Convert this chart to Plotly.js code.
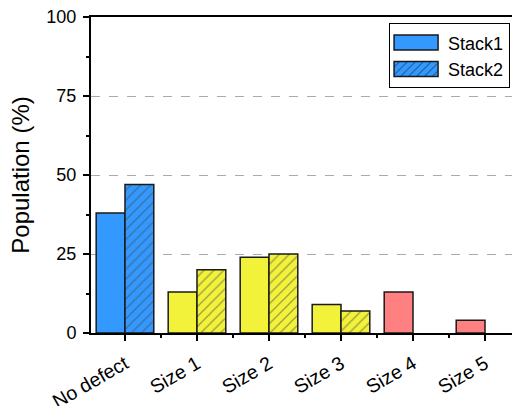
<!DOCTYPE html>
<html>
<head>
<meta charset="utf-8">
<script src="https://cdn.plot.ly/plotly-3.0.1.min.js"></script>
<style>html,body{margin:0;padding:0;background:#fff;}#chart{width:512px;height:406px;}</style>
</head>
<body>
<div id="chart"></div>
<script>
const categories = ["No defect", "Size 1", "Size 2", "Size 3", "Size 4", "Size 5"];
const stack1 = [38, 13, 24, 9, 13, 4];
const stack2 = [47, 20, 25, 7, null, null];
const barColors = ["#3399FF", "#F2F23A", "#F2F23A", "#F2F23A", "#FF8080", "#FF8080"];
const seriesNames = ["Stack1", "Stack2"];
const yTicks = [0, 25, 50, 75, 100];

const xIdx = categories.map((c, i) => i);
const font = "Liberation Sans, Arial, sans-serif";

const traces = [
  {
    type: "bar", x: xIdx, y: stack1, name: seriesNames[0],
    marker: { color: barColors, line: { color: "#1a1a1a", width: 1.5 } },
    hoverinfo: "skip"
  },
  {
    type: "bar", x: xIdx, y: stack2, name: seriesNames[1],
    marker: {
      color: barColors,
      line: { color: "#1a1a1a", width: 1.5 },
      pattern: { shape: "/", fillmode: "overlay", fgcolor: "#111", size: 7, solidity: 0.18 }
    },
    hoverinfo: "skip"
  }
];

const layout = {
  width: 512, height: 406,
  margin: { l: 91, r: 0, t: 17, b: 73 },
  paper_bgcolor: "#fff", plot_bgcolor: "#fff",
  barmode: "group", bargap: 0.2, bargroupgap: 0,
  font: { family: font, size: 18, color: "#000" },
  showlegend: true,
  legend: {
    x: 0.708, y: 0.98, xanchor: "left", yanchor: "top",
    bordercolor: "#000", borderwidth: 1, bgcolor: "#fff",
    font: { family: font, size: 18 },
    itemwidth: 48,
    tracegroupgap: 0
  },
  xaxis: {
    range: [-0.472, 5.375],
    tickmode: "array", tickvals: xIdx, ticktext: categories,
    tickangle: -30,
    ticks: "outside", ticklen: 6, tickwidth: 2, tickcolor: "#000",
    ticklabelstandoff: 4,
    minor: { tickmode: "linear", tick0: 0.5, dtick: 1, ticks: "outside", ticklen: 3, tickwidth: 2, tickcolor: "#000", showgrid: false },
    showline: true, linecolor: "#000", linewidth: 2, mirror: true,
    showgrid: false, zeroline: false,
    tickfont: { family: font, size: 19.5 }
  },
  yaxis: {
    range: [0, 100],
    tickmode: "array", tickvals: yTicks,
    ticks: "outside", ticklen: 6, tickwidth: 2, tickcolor: "#000",
    ticklabelstandoff: 3,
    minor: { tickmode: "linear", tick0: 12.5, dtick: 25, ticks: "outside", ticklen: 3, tickwidth: 2, tickcolor: "#000", showgrid: false },
    showline: true, linecolor: "#000", linewidth: 2,
    showgrid: true, gridcolor: "#aaaaaa", griddash: "dash", gridwidth: 1,
    zeroline: false,
    tickfont: { family: font, size: 18 },
    title: { text: "Population (%)", font: { family: font, size: 24 }, standoff: 10 }
  }
};

Plotly.newPlot("chart", traces, layout, { staticPlot: true, displayModeBar: false }).then(function (gd) {
  // enlarge legend swatches to wide rectangles like the original
  gd.querySelectorAll(".legend .legendpoints path").forEach(function (p) {
    p.setAttribute("d", "M22,7.5H-22V-7.5H22Z");
  });
  gd.querySelectorAll(".legend .legendpoints").forEach(function (g) {
    g.setAttribute("transform", "translate(-3,0)");
  });
});
</script>
</body>
</html>
